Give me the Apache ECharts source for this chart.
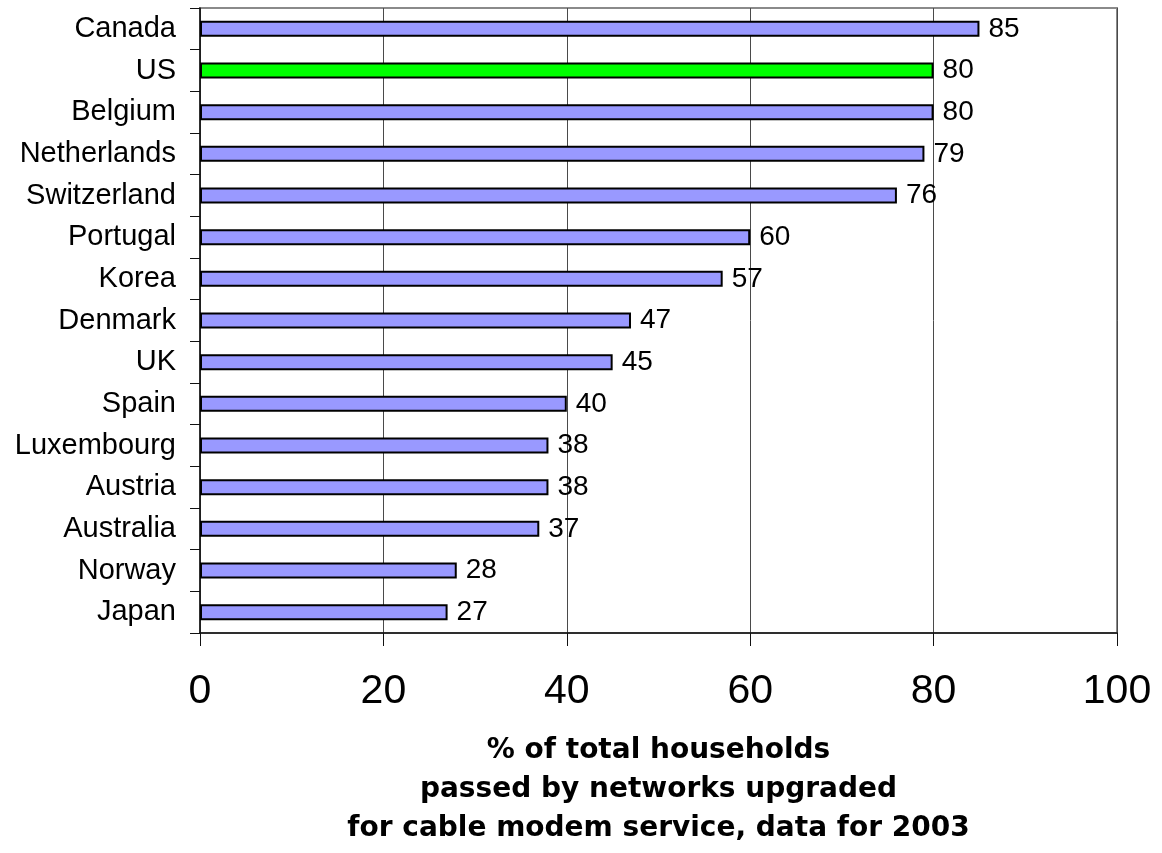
<!DOCTYPE html>
<html>
<head>
<meta charset="utf-8">
<style>
  html, body { margin: 0; padding: 0; background: #fff; }
  #chart { width: 1162px; height: 853px; }
</style>
<script src="https://cdn.jsdelivr.net/npm/echarts@6/dist/echarts.min.js"></script>
</head>
<body>
<div id="chart"></div>
<script>
// Countries, top to bottom
const countries = ['Canada', 'US', 'Belgium', 'Netherlands', 'Switzerland', 'Portugal', 'Korea',
  'Denmark', 'UK', 'Spain', 'Luxembourg', 'Austria', 'Australia', 'Norway', 'Japan'];
// Share of households passed by upgraded cable networks (%)
const households = [85, 80, 80, 79, 76, 60, 57, 47, 45, 40, 38, 38, 37, 28, 27];
// Country shown in the highlight colour
const highlighted = 'US';
const xTicks = [0, 20, 40, 60, 80, 100];

const ARIAL = '"Liberation Sans", Arial, sans-serif';
const WIDE = '"DejaVu Sans", Verdana, sans-serif';

const chart = echarts.init(document.getElementById('chart'), null, { renderer: 'canvas' });

chart.setOption({
  animation: false,
  backgroundColor: '#ffffff',
  grid: {
    left: 200, right: 45, top: 8, bottom: 214,
    show: true, borderColor: '#8a8a8a', borderWidth: 2, backgroundColor: 'transparent'
  },
  xAxis: {
    type: 'value',
    min: xTicks[0], max: xTicks[xTicks.length - 1], interval: 20,
    axisLine: { show: true, onZero: false, lineStyle: { color: '#111', width: 1.5 } },
    axisTick: { show: true, length: 13, lineStyle: { color: '#111', width: 1 } },
    axisLabel: { fontFamily: ARIAL, fontSize: 41, color: '#000', margin: 38 },
    splitLine: { show: true, lineStyle: { color: '#4a4a4a', width: 1 } },
    name: '% of total households\npassed by networks upgraded\nfor cable modem service, data for 2003',
    nameLocation: 'middle',
    nameGap: 98,
    nameTextStyle: { fontFamily: WIDE, fontSize: 28, fontWeight: 'bold', color: '#000', lineHeight: 39, align: 'center' }
  },
  yAxis: {
    type: 'category',
    data: countries,
    inverse: true,
    axisLine: { show: true, lineStyle: { color: '#111', width: 1.5 } },
    axisTick: { show: true, length: 10, lineStyle: { color: '#111', width: 1 } },
    axisLabel: { fontFamily: ARIAL, fontSize: 29, color: '#000', margin: 24 },
    splitLine: { show: false }
  },
  series: [{
    type: 'bar',
    data: households.map((v, i) => ({
      value: v,
      itemStyle: { color: countries[i] === highlighted ? '#00ff00' : '#9999ff' }
    })),
    barWidth: 16,
    itemStyle: { borderColor: '#000', borderWidth: 2 },
    label: {
      show: true, position: 'right', distance: 9,
      fontFamily: ARIAL, fontSize: 28, color: '#000'
    }
  }]
});
</script>
</body>
</html>
